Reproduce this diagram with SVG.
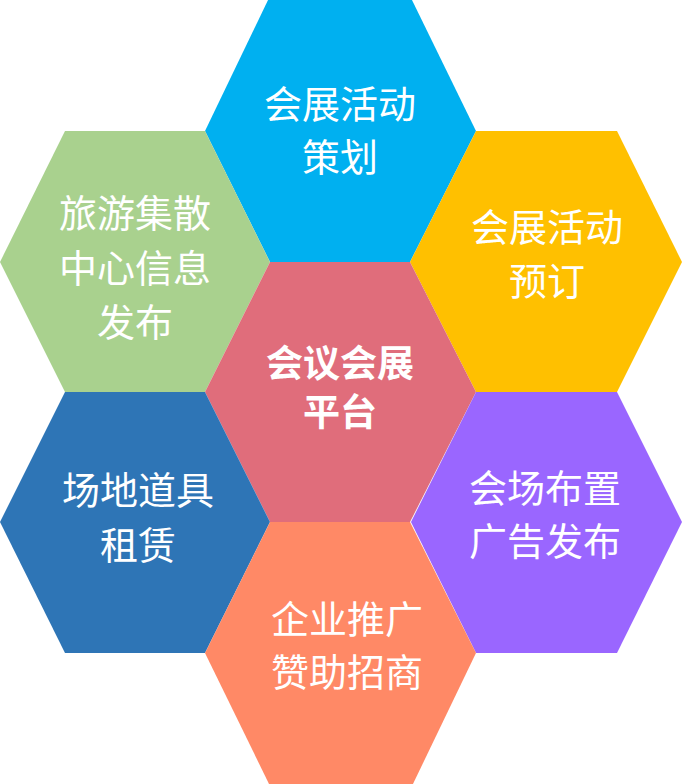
<svg xmlns="http://www.w3.org/2000/svg" width="682" height="784" viewBox="0 0 682 784">
<style>
.t{font-family:"Noto Sans CJK SC","Noto Sans",sans-serif;font-size:38px;fill:#fff;text-anchor:middle}
.b{font-weight:bold;font-size:37px}
</style>
<rect width="682" height="784" fill="#fff"/>
<g id="hex-top">
<polygon points="205,131 269,-2 411,-2 476,131 410,262 270,262" fill="#00B0F0"/>
<text class="t" x="340" y="118">会展活动</text>
<text class="t" x="340" y="171">策划</text>
</g>
<g id="hex-green">
<polygon points="0,262 65,131 205,131 270,262 205,392 65,392" fill="#A9D18E"/>
<text class="t" x="135" y="227">旅游集散</text>
<text class="t" x="135" y="282">中心信息</text>
<text class="t" x="135" y="336">发布</text>
</g>
<g id="hex-yellow">
<polygon points="410,262 476,131 617,131 682,262 617,392 476,392" fill="#FFC000"/>
<text class="t" x="547" y="241">会展活动</text>
<text class="t" x="547" y="295">预订</text>
</g>
<g id="hex-center">
<polygon points="205,392 270,262 410,262 476,392 410,522 270,522" fill="#E06D7B"/>
<text class="t b" x="340" y="377">会议会展</text>
<text class="t b" x="340" y="426">平台</text>
</g>
<g id="hex-blue">
<polygon points="0,522 65,392 205,392 270,522 205,653 65,653" fill="#2E75B6"/>
<text class="t" x="138" y="504">场地道具</text>
<text class="t" x="138" y="559">租赁</text>
</g>
<g id="hex-purple">
<polygon points="411,522 476,392 617,392 682,522 617,653 476,653" fill="#9A66FF"/>
<text class="t" x="545" y="502">会场布置</text>
<text class="t" x="545" y="555">广告发布</text>
</g>
<g id="hex-orange">
<polygon points="205,653 270,522 410,522 476,653 412,786 270,786" fill="#FF8966"/>
<text class="t" x="347" y="633">企业推广</text>
<text class="t" x="347" y="686">赞助招商</text>
</g>
<g id="connectors"/>
</svg>
